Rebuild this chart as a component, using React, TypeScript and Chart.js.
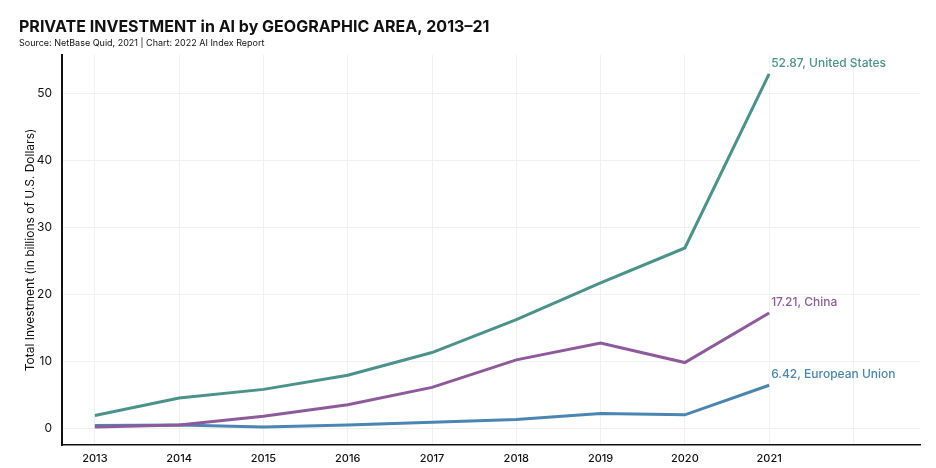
import React, { useEffect, useRef } from "react";
import { Chart, registerables } from "chart.js";

Chart.register(...registerables);

const years = [2013, 2014, 2015, 2016, 2017, 2018, 2019, 2020, 2021];
const usValues = [1.9, 4.5, 5.8, 7.9, 11.3, 16.2, 21.7, 26.9, 52.87];
const chinaValues = [0.2, 0.5, 1.8, 3.5, 6.1, 10.2, 12.7, 9.8, 17.21];
const euValues = [0.4, 0.5, 0.2, 0.5, 0.9, 1.3, 2.2, 2.0, 6.42];
const xGridYears = [2013, 2014, 2015, 2016, 2017, 2018, 2019, 2020, 2021, 2022];
const yTicks = [0, 10, 20, 30, 40, 50];

const seriesNames = ["United States", "China", "European Union"];
const seriesColors = ["#4b928a", "#8d5b9b", "#4a86b1"];
const FONT = "Inter, 'Open Sans', sans-serif";

const labelPlugin = {
  id: "endLabels",
  afterDatasetsDraw(chart: any) {
    const ctx = chart.ctx;
    ctx.save();
    ctx.font = `500 12px ${FONT}`;
    ctx.textAlign = "left";
    ctx.textBaseline = "middle";
    chart.data.datasets.forEach((ds: any, i: number) => {
      const meta = chart.getDatasetMeta(i);
      const last = meta.data[meta.data.length - 1];
      const v = ds.data[ds.data.length - 1].y;
      ctx.fillStyle = seriesColors[i];
      ctx.fillText(`${v.toFixed(2)}, ${seriesNames[i]}`, last.x + 2, last.y - 11);
    });
    ctx.restore();
  },
};

const headerPlugin = {
  id: "header",
  afterDraw(chart: any) {
    const ctx = chart.ctx;
    ctx.save();
    ctx.fillStyle = "#111";
    ctx.textAlign = "left";
    ctx.textBaseline = "middle";
    ctx.font = `bold 16px ${FONT}`;
    ctx.fillText("PRIVATE INVESTMENT in AI by GEOGRAPHIC AREA, 2013–21", 19, 27);
    ctx.font = `9px ${FONT}`;
    ctx.fillText("Source: NetBase Quid, 2021 | Chart: 2022 AI Index Report", 19, 43);
    ctx.restore();
  },
};

export default function App() {
  const ref = useRef<HTMLCanvasElement>(null);
  useEffect(() => {
    document.body.style.margin = "0";
    const mk = (vals: number[]) => years.map((y, i) => ({ x: y, y: vals[i] }));
    const chart = new Chart(ref.current!, {
      type: "line",
      data: {
        datasets: [usValues, chinaValues, euValues].map((vals, i) => ({
          label: seriesNames[i],
          data: mk(vals),
          borderColor: seriesColors[i],
          backgroundColor: seriesColors[i],
          borderWidth: 3,
          pointRadius: 0,
          tension: 0,
        })),
      },
      options: {
        animation: false,
        responsive: false,
        layout: { padding: { top: 55, right: 16, left: 23, bottom: 0 } },
        plugins: { legend: { display: false }, tooltip: { enabled: false } },
        scales: {
          x: {
            type: "linear",
            min: 2012.61,
            max: 2022.79,
            afterBuildTicks: (s: any) => {
              s.ticks = xGridYears.map((v) => ({ value: v }));
            },
            afterFit: (s: any) => {
              s.height = 23;
            },
            ticks: {
              color: "#111",
              font: { family: FONT, size: 11, weight: 500 },
              padding: 7,
              maxRotation: 0,
              autoSkip: false,
              callback: (v: any) => (years.includes(v) ? String(v) : ""),
            },
            grid: { color: "#f0f0f0", drawTicks: false },
            border: { color: "#111", width: 1.5 },
          },
          y: {
            min: -2.5,
            max: 55.7,
            afterBuildTicks: (s: any) => {
              s.ticks = yTicks.map((v) => ({ value: v }));
            },
            afterFit: (s: any) => {
              s.width = 39;
            },
            ticks: {
              color: "#111",
              font: { family: FONT, size: 12 },
              padding: 10,
            },
            title: {
              display: true,
              text: "Total Investment (in billions of U.S. Dollars)",
              color: "#111",
              font: { family: FONT, size: 12 },
              padding: { top: 0, bottom: 0 },
            },
            grid: { color: "#f0f0f0", drawTicks: false },
            border: { color: "#111", width: 2 },
          },
        },
      },
      plugins: [labelPlugin, headerPlugin],
    } as any);
    return () => chart.destroy();
  }, []);
  return (
    <div style={{ width: 936, height: 468, background: "#fff" }}>
      <canvas ref={ref} width={936} height={468} style={{ width: 936, height: 468 }} />
    </div>
  );
}
